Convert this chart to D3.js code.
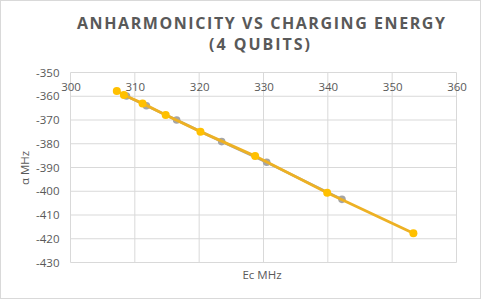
<!DOCTYPE html>
<html>
<head>
<meta charset="utf-8">
<script src="https://cdn.jsdelivr.net/npm/d3@7"></script>
<style>
  body { margin: 0; background: #fff; }
  text { font-family: "Open Sans", "Noto Sans", sans-serif; }
</style>
</head>
<body>
<div id="chart"></div>
<script>
"use strict";

// Data
var ecYellow    = [307.2, 308.3, 311.2, 314.8, 320.2, 328.7, 339.9, 353.3];
var alphaYellow = [-357.8, -359.5, -363.0, -367.9, -374.9, -385.2, -400.6, -417.7];
var ecGray      = [308.7, 311.8, 316.5, 323.5, 330.5, 342.2];
var alphaGray   = [-359.9, -364.0, -370.0, -379.1, -387.8, -403.4];
var xTicks = [300, 310, 320, 330, 340, 350, 360];
var yTicks = [-350, -360, -370, -380, -390, -400, -410, -420, -430];
var titleLines = ["ANHARMONICITY VS CHARGING ENERGY", "(4 QUBITS)"];

var W = 481, H = 299;
var margin = { top: 72.5, right: 24.5, bottom: 36.5, left: 70.5 },
    width = W - margin.left - margin.right,
    height = H - margin.top - margin.bottom;

var root = d3.select("#chart")
  .append("svg")
  .attr("width", W)
  .attr("height", H);

// outer chart border
root.append("rect")
  .attr("x", 0.5).attr("y", 0.5)
  .attr("width", W - 1).attr("height", H - 1)
  .attr("fill", "#fff")
  .attr("stroke", "#d9d9d9");

// Title (two lines, widths matched to the original)
var titleWidths = [368, 101];
var titleX = [261, 259.5];
root.selectAll(".title")
  .data(titleLines)
  .enter()
  .append("text")
  .attr("class", "title")
  .attr("x", function (d, i) { return titleX[i] - titleWidths[i] / 2; })
  .attr("y", function (d, i) { return 29 + i * 21; })
  .attr("font-size", 16)
  .attr("font-weight", "bold")
  .attr("textLength", function (d, i) { return titleWidths[i]; })
  .attr("lengthAdjust", "spacing")
  .attr("fill", "#595959")
  .text(function (d) { return d; });

var svg = root.append("g")
  .attr("transform", "translate(" + margin.left + "," + margin.top + ")");

var xScale = d3.scaleLinear().domain([300, 360]).range([0, width]);
var yScale = d3.scaleLinear().domain([-350, -430]).range([0, height]);

// gridlines
svg.selectAll(".vgrid")
  .data(xTicks)
  .enter()
  .append("line")
  .attr("x1", function (d) { return xScale(d); })
  .attr("x2", function (d) { return xScale(d); })
  .attr("y1", 0).attr("y2", height)
  .attr("stroke", "#d9d9d9");

svg.selectAll(".hgrid")
  .data(yTicks)
  .enter()
  .append("line")
  .attr("x1", 0).attr("x2", width)
  .attr("y1", function (d) { return yScale(d); })
  .attr("y2", function (d) { return yScale(d); })
  .attr("stroke", "#d9d9d9");

// X axis sits at the top (crosses at -350)
var xAxis = d3.axisBottom(xScale).tickValues(xTicks).tickSize(0).tickPadding(10);
var gx = svg.append("g").call(xAxis);
gx.select(".domain").remove();
gx.selectAll("text").attr("font-size", 11.5).attr("fill", "#595959")
  .attr("font-family", "'Open Sans', sans-serif");

var yAxis = d3.axisLeft(yScale).tickValues(yTicks).tickSize(0).tickPadding(11);
var gy = svg.append("g").call(yAxis);
gy.select(".domain").remove();
gy.selectAll("text").attr("font-size", 11.5).attr("fill", "#595959")
  .attr("font-family", "'Open Sans', sans-serif")
  .text(function (d) { return d3.format("")(d).replace("−", "-"); });

// Axis titles
root.append("text")
  .attr("x", 262).attr("y", 279)
  .attr("text-anchor", "middle")
  .attr("font-size", 11.5)
  .attr("fill", "#595959")
  .text("Ec MHz");

root.append("text")
  .attr("transform", "translate(29,168) rotate(-90)")
  .attr("text-anchor", "middle")
  .attr("font-size", 11.5)
  .attr("fill", "#595959")
  .text("α MHz");

var grayPts = ecGray.map(function (d, i) { return [d, alphaGray[i]]; });
var yellowPts = ecYellow.map(function (d, i) { return [d, alphaYellow[i]]; });

var line = d3.line()
  .x(function (d) { return xScale(d[0]); })
  .y(function (d) { return yScale(d[1]); });

// Gray series
svg.append("path")
  .datum(grayPts)
  .attr("d", line)
  .attr("fill", "none")
  .attr("stroke", "#a5a5a5")
  .attr("stroke-width", 2.5);

svg.selectAll(".gdot")
  .data(grayPts)
  .enter()
  .append("circle")
  .attr("cx", function (d) { return xScale(d[0]); })
  .attr("cy", function (d) { return yScale(d[1]); })
  .attr("r", 3.8)
  .attr("fill", "#a5a5a5");

// Yellow series
svg.append("path")
  .datum(yellowPts)
  .attr("d", line)
  .attr("fill", "none")
  .attr("stroke", "#edb124")
  .attr("stroke-width", 2.8);

svg.selectAll(".ydot")
  .data(yellowPts)
  .enter()
  .append("circle")
  .attr("cx", function (d) { return xScale(d[0]); })
  .attr("cy", function (d) { return yScale(d[1]); })
  .attr("r", 4)
  .attr("fill", "#ffc000");
</script>
</body>
</html>
